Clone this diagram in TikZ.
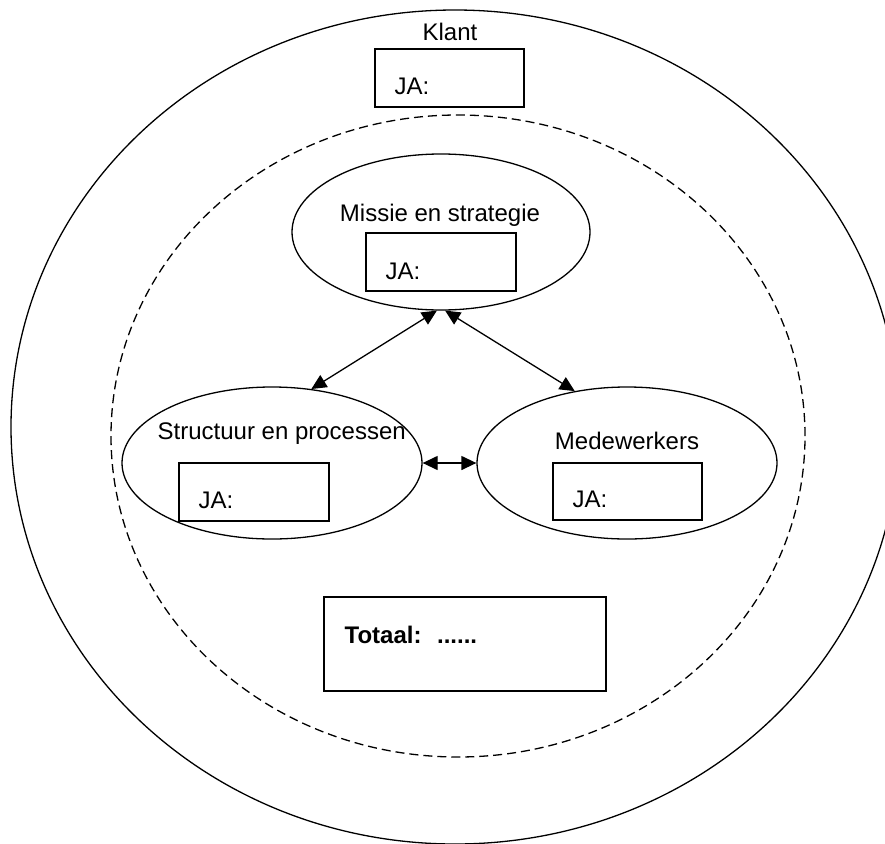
\documentclass[tikz,border=0pt]{standalone}
\usepackage{fontspec}
\setmainfont{Liberation Sans}
\usetikzlibrary{shapes.geometric}
\usetikzlibrary{arrows.meta}

\begin{document}
\begin{tikzpicture}[x=1pt,y=-1pt,line width=1.3pt,
font=\fontsize{24}{28}\selectfont,
oval/.style={draw,ellipse,inner sep=0pt},
jabox/.style={draw,rectangle,inner sep=0pt,
minimum width=150,minimum height=58},
txt/.style={inner sep=0pt},
dblarrow/.style={{Triangle[length=15pt,width=14pt]}-{Triangle[length=15pt,width=14pt]}}]
\useasboundingbox (0,0) rectangle (885,843);
\clip (0,0) rectangle (885,843);
\node[oval,minimum width=888,minimum height=834] (klant) at (455,427) {};
\node[oval,dash pattern=on 9pt off 5pt,minimum width=694,minimum height=642] (binnen) at (458,436) {};
\node[txt,anchor=base] (klanttxt) at (450,41) {Klant};
\node[jabox,minimum width=149] (klantbox) at (449.5,78) {};
\node[txt,anchor=base west] (klantja) at (394,94) {JA:};
\node[oval,minimum width=298,minimum height=156] (miss) at (441,232) {};
\node[txt,anchor=base] (misstxt) at (440,221) {Missie en strategie};
\node[jabox] (missbox) at (441,262) {};
\node[txt,anchor=base west] (missja) at (385,279) {JA:};
\node[oval,minimum width=300,minimum height=152] (struct) at (272,463) {};
\node[txt,anchor=base west] (structtxt) at (157,439) {Structuur en processen};
\node[jabox] (structbox) at (254,492) {};
\node[txt,anchor=base west] (structja) at (198,508) {JA:};
\node[oval,minimum width=300,minimum height=152] (medew) at (627,463) {};
\node[txt,anchor=base] (medewtxt) at (627,449) {Medewerkers};
\node[jabox,minimum width=149,minimum height=57] (medewbox) at (627.5,491.5) {};
\node[txt,anchor=base west] (medewja) at (572,507) {JA:};
\node[jabox,minimum width=282,minimum height=94] (totaal) at (465,644) {};
\node[txt,anchor=base west,font=\fontsize{24}{28}\selectfont\bfseries] (totaaltxt) at (344,643) {Totaal: \ ......};
\draw[dblarrow] (miss.267) -- (struct.62);
\draw[dblarrow] (miss.273) -- (medew.126);
\draw[dblarrow] (struct.east) -- (medew.west);
\end{tikzpicture}
\end{document}
